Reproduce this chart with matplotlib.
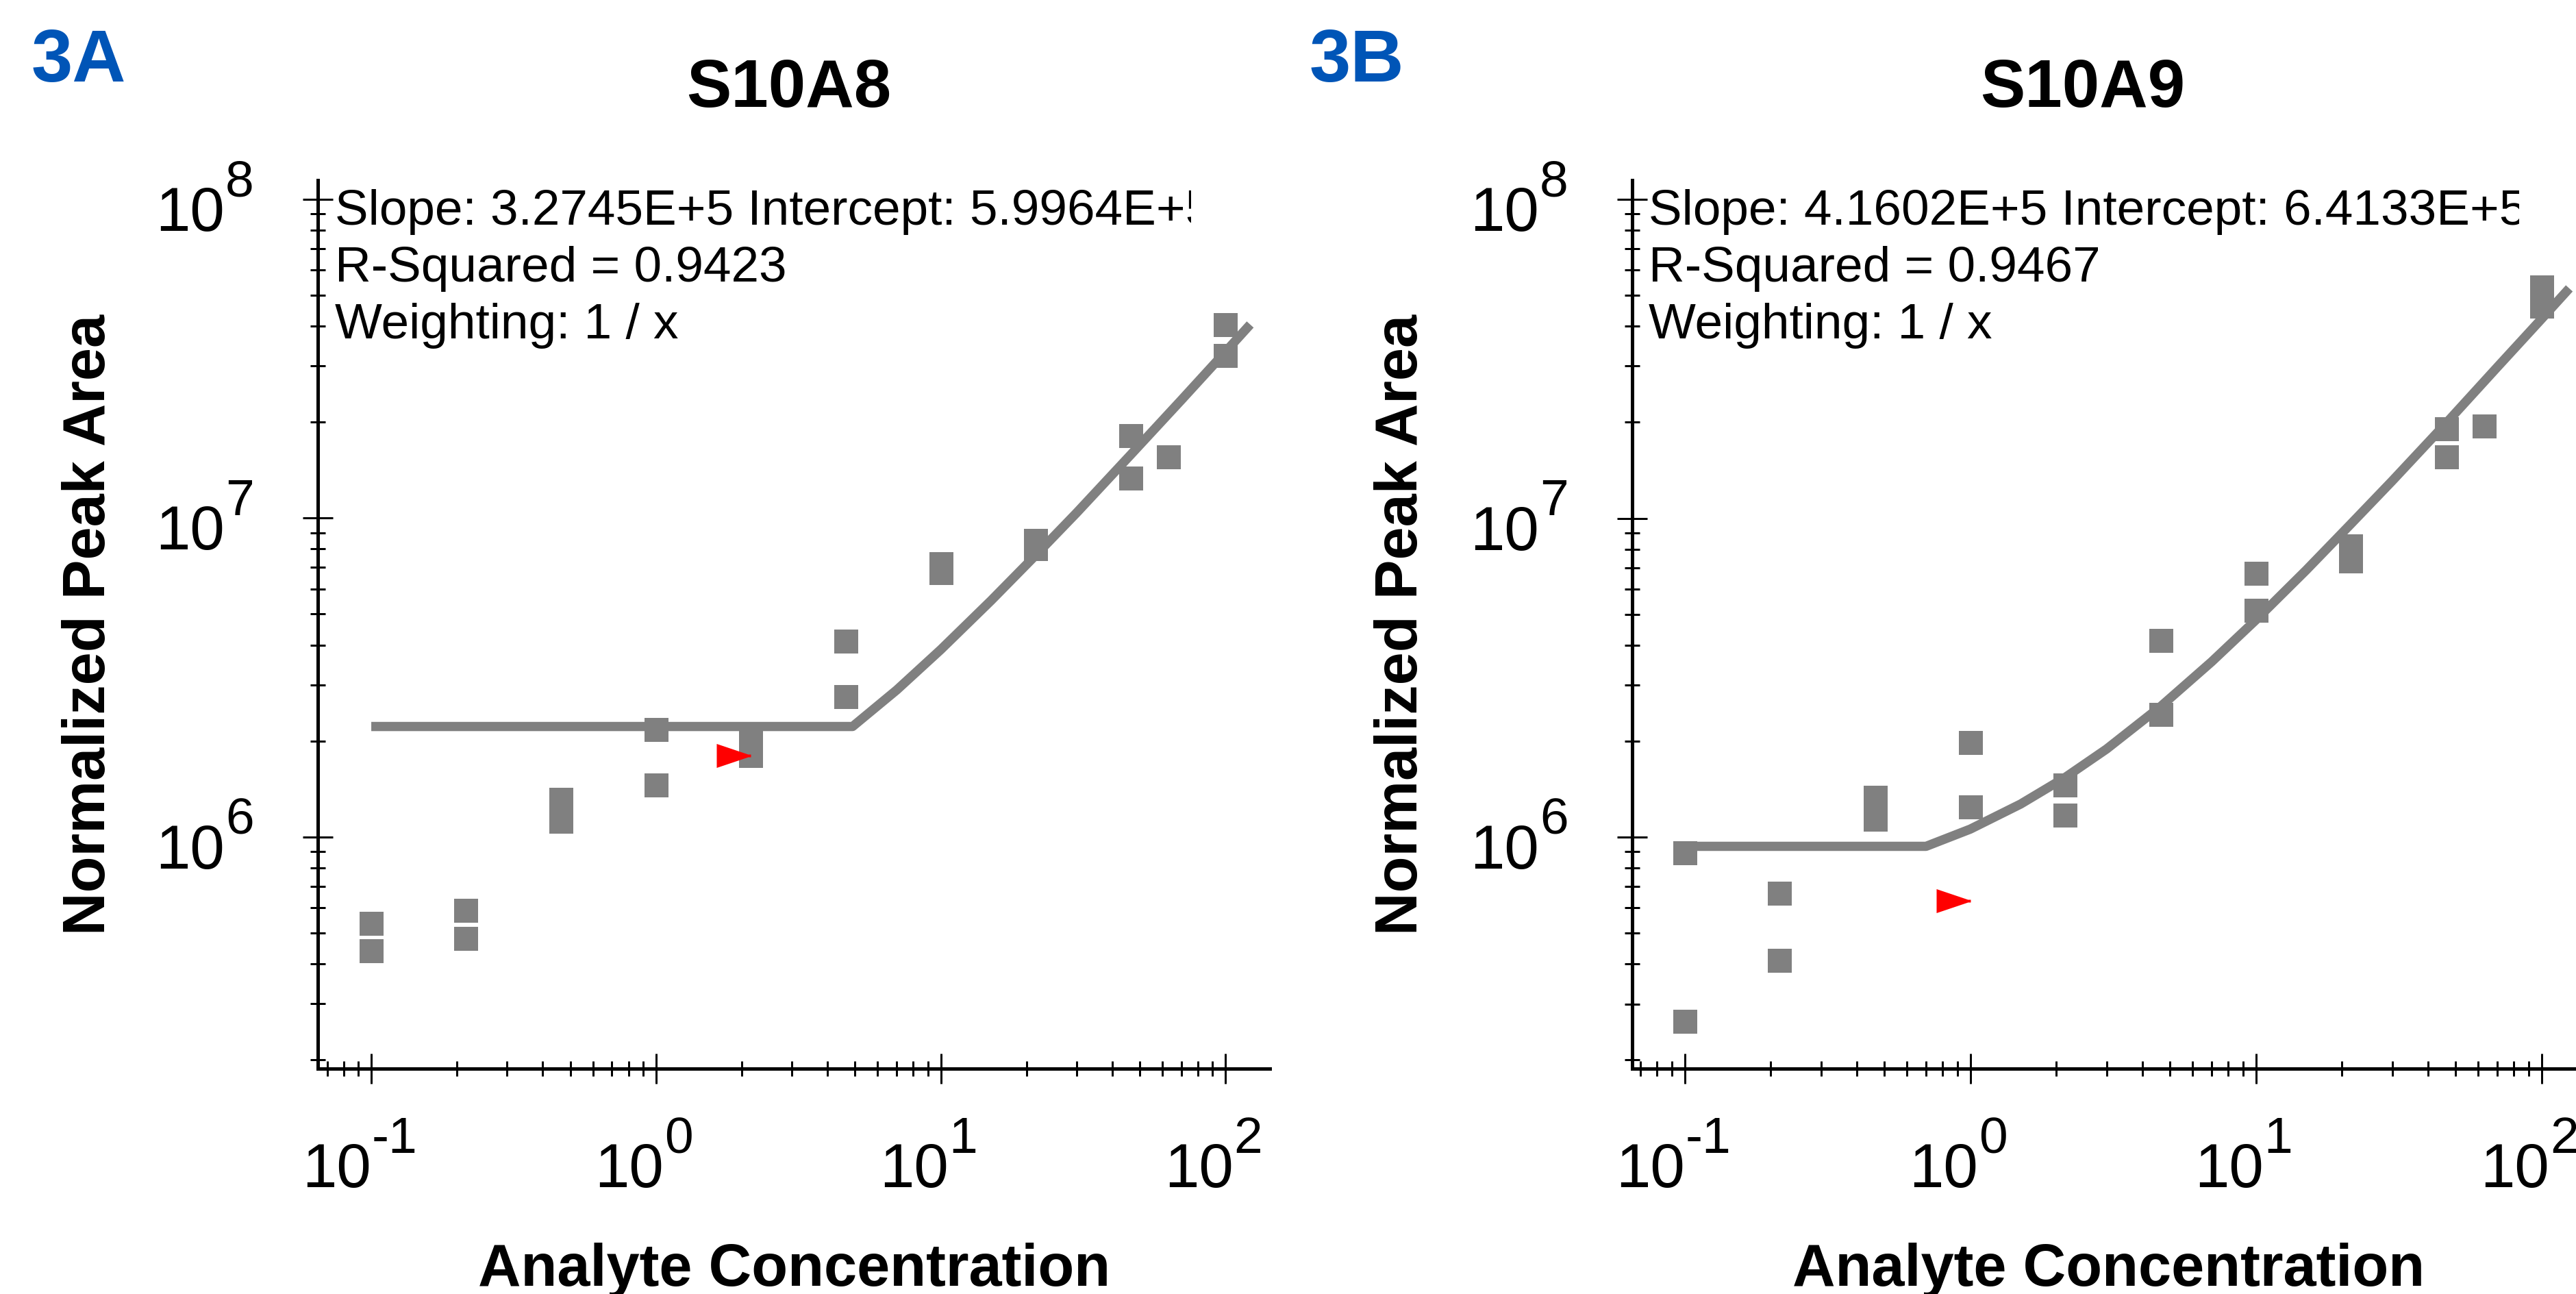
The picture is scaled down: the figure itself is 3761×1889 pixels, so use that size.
import numpy as np
import matplotlib
matplotlib.use('Agg')
import matplotlib.pyplot as plt
import matplotlib.ticker as ticker
from matplotlib.path import Path
from matplotlib.transforms import Bbox, TransformedBbox

plt.rcParams['font.family'] = ['Liberation Sans', 'DejaVu Sans']

DPI = 200
W, H = 3761, 1889

# ---- data ----
# S10A8
a_conc = [0.1, 0.1, 0.215, 0.215, 0.464, 0.464, 1, 1, 2.15, 2.15, 4.64, 4.64,
          10, 10, 21.5, 21.5, 46.4, 46.4, 63, 100, 100]
a_area = [5.36e5, 4.39e5, 5.87e5, 4.80e5, 1.31e6, 1.12e6, 2.17e6, 1.455e6, 2.11e6, 1.80e6,
          4.12e6, 2.76e6, 7.2e6, 6.75e6, 8.5e6, 8.0e6, 1.81e7, 1.335e7, 1.56e7, 4.04e7, 3.23e7]
a_fit_x = [0.1, 4.9, 7, 10, 15, 21.5, 30, 46.4, 70, 100, 122]
a_fit_y = [2.22e6, 2.22e6, 2.89e6, 3.87e6, 5.51e6, 7.64e6, 1.04e7, 1.58e7, 2.35e7, 3.33e7, 4.05e7]
a_lloq = (2.15, 1.80e6)
a_stats = ['Slope: 3.2745E+5 Intercept: 5.9964E+5', 'R-Squared = 0.9423', 'Weighting: 1 / x']

# S10A9
b_conc = [0.1, 0.1, 0.215, 0.215, 0.464, 0.464, 1, 1, 2.15, 2.15, 4.64, 4.64,
          10, 10, 21.5, 21.5, 46.4, 46.4, 63, 100, 100]
b_area = [8.93e5, 2.64e5, 6.68e5, 4.11e5, 1.33e6, 1.14e6, 1.98e6, 1.245e6, 1.46e6, 1.17e6,
          4.13e6, 2.42e6, 6.73e6, 5.15e6, 8.18e6, 7.36e6, 1.91e7, 1.56e7, 1.95e7, 5.3e7, 4.62e7]
b_fit_x = [0.1, 0.7, 1, 1.5, 2.15, 3, 4.64, 7, 10, 15, 21.5, 30, 46.4, 70, 100, 125]
b_fit_y = [9.36e5, 9.36e5, 1.06e6, 1.27e6, 1.54e6, 1.89e6, 2.57e6, 3.55e6, 4.8e6, 6.88e6,
           9.6e6, 1.31e7, 1.99e7, 2.98e7, 4.22e7, 5.26e7]
b_lloq = (1.0, 6.31e5)
b_stats = ['Slope: 4.1602E+5 Intercept: 6.4133E+5', 'R-Squared = 0.9467', 'Weighting: 1 / x']

x_major = [-1, 0, 1, 2]
y_major = [6, 7, 8]

GRAY = '#808080'


def P(px):
    # pixels -> points
    return px * 72.0 / DPI


def fx(x):
    return x / W


def fy(y):
    return 1 - y / H


fig = plt.figure(figsize=(W / DPI, H / DPI), dpi=DPI)

# right-pointing flag marker, tip at the data point
tri = Path([(-50, -17.5), (-4, -2), (0, -2), (0, 2), (-4, 2), (-50, 17.5), (-50, -17.5)], closed=True)


def panel(left, xlim, ylim, conc, area, fit_x, fit_y, lloq, stats, clip_px, text_dx):
    ax = fig.add_axes([fx(left), fy(1560), 1390 / W, 1297 / H])
    ax.plot(fit_x, fit_y, color=GRAY, lw=P(13.5), solid_capstyle='butt', zorder=2)
    ax.plot(conc, area, 's', ms=P(35), color=GRAY, mew=0, ls='none', zorder=3)
    ax.plot([lloq[0]], [lloq[1]], marker=tri, ms=P(100), color='red', mew=0, ls='none', zorder=4)

    ax.set_xscale('log')
    ax.set_yscale('log')
    ax.set_xlim(*xlim)
    ax.set_ylim(*ylim)
    for s in ['top', 'right']:
        ax.spines[s].set_visible(False)
    for s in ['left', 'bottom']:
        ax.spines[s].set_linewidth(P(5))

    ax.xaxis.set_major_locator(ticker.FixedLocator([10.0 ** e for e in x_major]))
    ax.yaxis.set_major_locator(ticker.FixedLocator([10.0 ** e for e in y_major]))
    ax.xaxis.set_minor_locator(ticker.LogLocator(base=10, subs=np.arange(2, 10), numticks=100))
    ax.yaxis.set_minor_locator(ticker.LogLocator(base=10, subs=np.arange(2, 10), numticks=100))
    ax.tick_params(which='major', direction='inout', length=P(44), width=P(3),
                   labelbottom=False, labelleft=False)
    ax.tick_params(which='minor', direction='inout', length=P(22), width=P(3),
                   labelbottom=False, labelleft=False)

    # power-of-ten tick labels with a large raised exponent
    for e in x_major:
        s = str(e)
        d = 11 - 11 * (len(s) - 1)
        ax.annotate('10', xy=(10.0 ** e, 0), xycoords=ax.get_xaxis_transform(),
                    xytext=(P(d), -P(173)), textcoords='offset points',
                    ha='right', va='baseline', fontsize=32.7, annotation_clip=False)
        ax.annotate(s, xy=(10.0 ** e, 0), xycoords=ax.get_xaxis_transform(),
                    xytext=(P(d + 1), -P(123)), textcoords='offset points',
                    ha='left', va='baseline', fontsize=27, annotation_clip=False)
    for e in y_major:
        ax.annotate('10', xy=(0, 10.0 ** e), xycoords=ax.get_yaxis_transform(),
                    xytext=(-P(136), -P(46)), textcoords='offset points',
                    ha='right', va='baseline', fontsize=32.7, annotation_clip=False)
        ax.annotate(str(e), xy=(0, 10.0 ** e), xycoords=ax.get_yaxis_transform(),
                    xytext=(-P(135), P(4.7)), textcoords='offset points',
                    ha='left', va='baseline', fontsize=27, annotation_clip=False)

    # fit statistics, clipped on the right like the original box
    clip = TransformedBbox(Bbox([[0, 0], [clip_px / 1390, 1.2]]), ax.transAxes)
    for i, line in enumerate(stats):
        t = ax.text(text_dx / 1390, (1560 - (328 + 83 * i)) / 1297, line,
                    transform=ax.transAxes, fontsize=26.3, ha='left', va='baseline')
        t.set_clip_box(clip)
        t.set_clip_on(True)
    return ax


axA = panel(464, (0.0649, 143), (1.875e5, 1.149e8), a_conc, a_area, a_fit_x, a_fit_y,
            a_lloq, a_stats, 1739 - 464, 25)
axB = panel(2383, (0.0655, 141), (1.88e5, 1.149e8), b_conc, b_area, b_fit_x, b_fit_y,
            b_lloq, b_stats, 3678 - 2383, 24)

# titles, axis labels, panel letters
fig.text(fx(1152), fy(156), 'S10A8', fontsize=35.2, fontweight='bold', ha='center', va='baseline')
fig.text(fx(3041), fy(156), 'S10A9', fontsize=35.2, fontweight='bold', ha='center', va='baseline')
for xc in [1160, 3078.5]:
    fig.text(fx(xc), fy(1877), 'Analyte Concentration', fontsize=31.2, fontweight='bold',
             ha='center', va='baseline')
for xb in [153.5, 2069]:
    fig.text(fx(xb), fy(912), 'Normalized Peak Area', fontsize=31.2, fontweight='bold',
             rotation=90, rotation_mode='anchor', ha='center', va='baseline')
fig.text(fx(46), fy(119.3), '3A', fontsize=39, fontweight='bold', color='#0055B7',
         ha='left', va='baseline')
fig.text(fx(1912), fy(119.3), '3B', fontsize=39, fontweight='bold', color='#0055B7',
         ha='left', va='baseline')

fig.savefig('out.png', dpi=DPI)
